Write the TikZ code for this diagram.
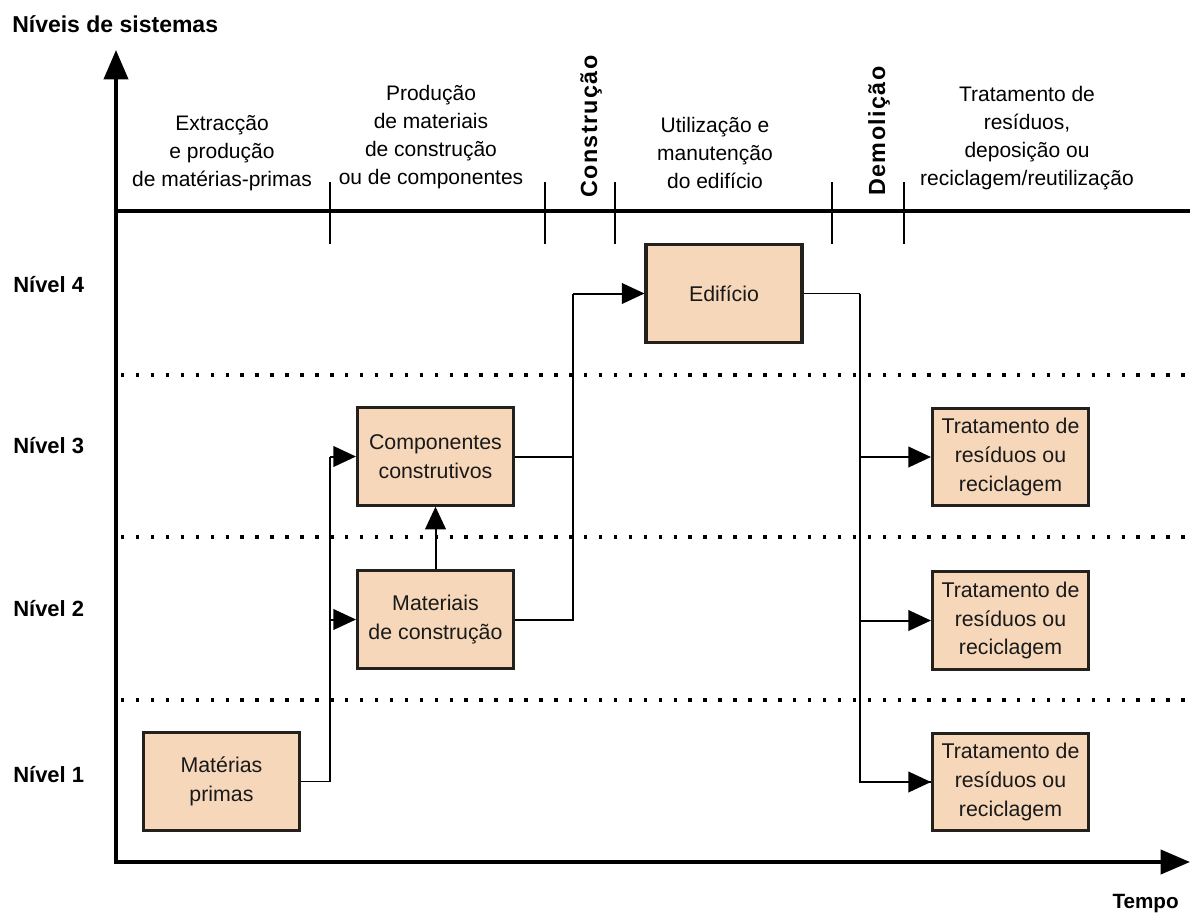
\documentclass[tikz,border=0pt]{standalone}
\usepackage{fontspec}
\setmainfont{Liberation Sans}
\newfontfamily\spacedfont{Liberation Sans}[LetterSpace=6]
\usetikzlibrary{arrows.meta}

\definecolor{boxfill}{RGB}{246,215,186}
\definecolor{boxline}{RGB}{36,32,28}

\begin{document}
\begin{tikzpicture}[x=0.75pt,y=-0.75pt,
  stage/.style={draw=boxline, line width=2.3pt, fill=boxfill,
    minimum width=117pt, minimum height=73pt, inner sep=0pt, align=center,
    text=black!90, font=\fontsize{16}{21.5}\selectfont},
  phase/.style={align=center, inner sep=0pt, anchor=base,
    font=\fontsize{15.75}{20.8}\selectfont},
  rotlabel/.style={rotate=90, anchor=base west, inner sep=0pt,
    font=\spacedfont\bfseries\fontsize{17.5}{20}\selectfont},
  level/.style={anchor=base west, inner sep=0pt,
    font=\bfseries\fontsize{16.5}{19}\selectfont},
  axis/.style={line width=3pt, black},
  tickmark/.style={line width=1.1pt, black},
  levelsep/.style={line width=2.8pt, dash pattern=on 2.6pt off 8.6pt, black},
  link/.style={line width=1.5pt, black},
  thinlink/.style={line width=1pt, black},
  tip/.style={-{Triangle[length=17pt,width=15.5pt]}},
  bigtip/.style={-{Triangle[length=22pt,width=18pt]}}
]
\useasboundingbox (0,0) rectangle (1190,915);

% axes and time line
\coordinate (origin) at (116,862);
\coordinate (ytop) at (116,50);
\coordinate (xend) at (1190,862);
\coordinate (tlstart) at (116,211);
\coordinate (tlend) at (1190,211);
\draw[axis,bigtip] (origin) -- (ytop);
\draw[axis,bigtip] ([xshift=-1.5pt]origin) -- (xend);
\draw[axis] (tlstart) -- (tlend);

% phase boundaries
\foreach \tx in {330,545,615,832,904}
  \draw[tickmark] (\tx,182) -- (\tx,244);

% level separators
\foreach \ly in {375,537,700}
  \draw[levelsep] (121,\ly) -- (1190,\ly);

% titles
\node[anchor=base west, inner sep=0pt, font=\bfseries\fontsize{17.25}{20}\selectfont]
  (ytitle) at (12,32) {Níveis de sistemas};
\node[anchor=base east, inner sep=0pt, font=\bfseries\fontsize{15.5}{18}\selectfont]
  (xtitle) at (1179,908) {Tempo};

% phase labels (placed by the baseline of their last line)
\node[phase] (ph1) at (222,186) {Extracção\\e produção\\de matérias-primas};
\node[phase] (ph2) at (431,184) {Produção\\de materiais\\de construção\\ou de componentes};
\node[phase] (ph3) at (715,188) {Utilização e\\manutenção\\do edifício};
\node[phase] (ph4) at (1027,185) {Tratamento de\\resíduos,\\deposição ou\\reciclagem/reutilização};
\node[rotlabel] (ph5) at (597,198) {Construção};
\node[rotlabel] (ph6) at (885,196) {Demolição};

% level labels
\node[level] (lv4) at (13,292) {Nível 4};
\node[level] (lv3) at (13,453) {Nível 3};
\node[level] (lv2) at (13,616) {Nível 2};
\node[level] (lv1) at (13,782) {Nível 1};

% stages
\node[stage] (edif) at (724,293.5) {Edifício};
\node[stage] (comp) at (435.5,456.5) {Componentes\\construtivos};
\node[stage] (mat)  at (435.5,619.5) {Materiais\\de construção};
\node[stage] (mp)   at (221.5,781.5) {Matérias\\primas};
\node[stage] (tr3)  at (1010.5,457) {Tratamento de\\resíduos ou\\reciclagem};
\node[stage] (tr2)  at (1010.5,620.5) {Tratamento de\\resíduos ou\\reciclagem};
\node[stage] (tr1)  at (1010.5,782) {Tratamento de\\resíduos ou\\reciclagem};

% raw materials to materials and components
\coordinate (jmp) at (330,781.5);
\coordinate (jcomp) at (330,456.5);
\draw[thinlink] (mp.east) -- (jmp);
\draw[link] (jmp) -- (jcomp);
\draw[link,tip] (jcomp) -- (comp.west);
\draw[link,tip] (mat.west -| jcomp) -- (mat.west);
\draw[link,tip] (mat.north) -- (comp.south);

% materials and components to the building
\coordinate (jbuild) at (573,293.5);
\draw[link] (comp.east) -- (comp.east -| jbuild);
\draw[link] (mat.east) -| (jbuild);
\draw[link,tip] (jbuild) -- (edif.west);

% building to waste treatment
\coordinate (jdemo) at (860,293.5);
\draw[thinlink] (edif.east) -- (jdemo);
\draw[link] (jdemo) |- (tr1.west);
\draw[link,tip] (tr1.west -| jdemo) -- (tr1.west);
\draw[link,tip] (tr2.west -| jdemo) -- (tr2.west);
\draw[link,tip] (tr3.west -| jdemo) -- (tr3.west);
\end{tikzpicture}
\end{document}
